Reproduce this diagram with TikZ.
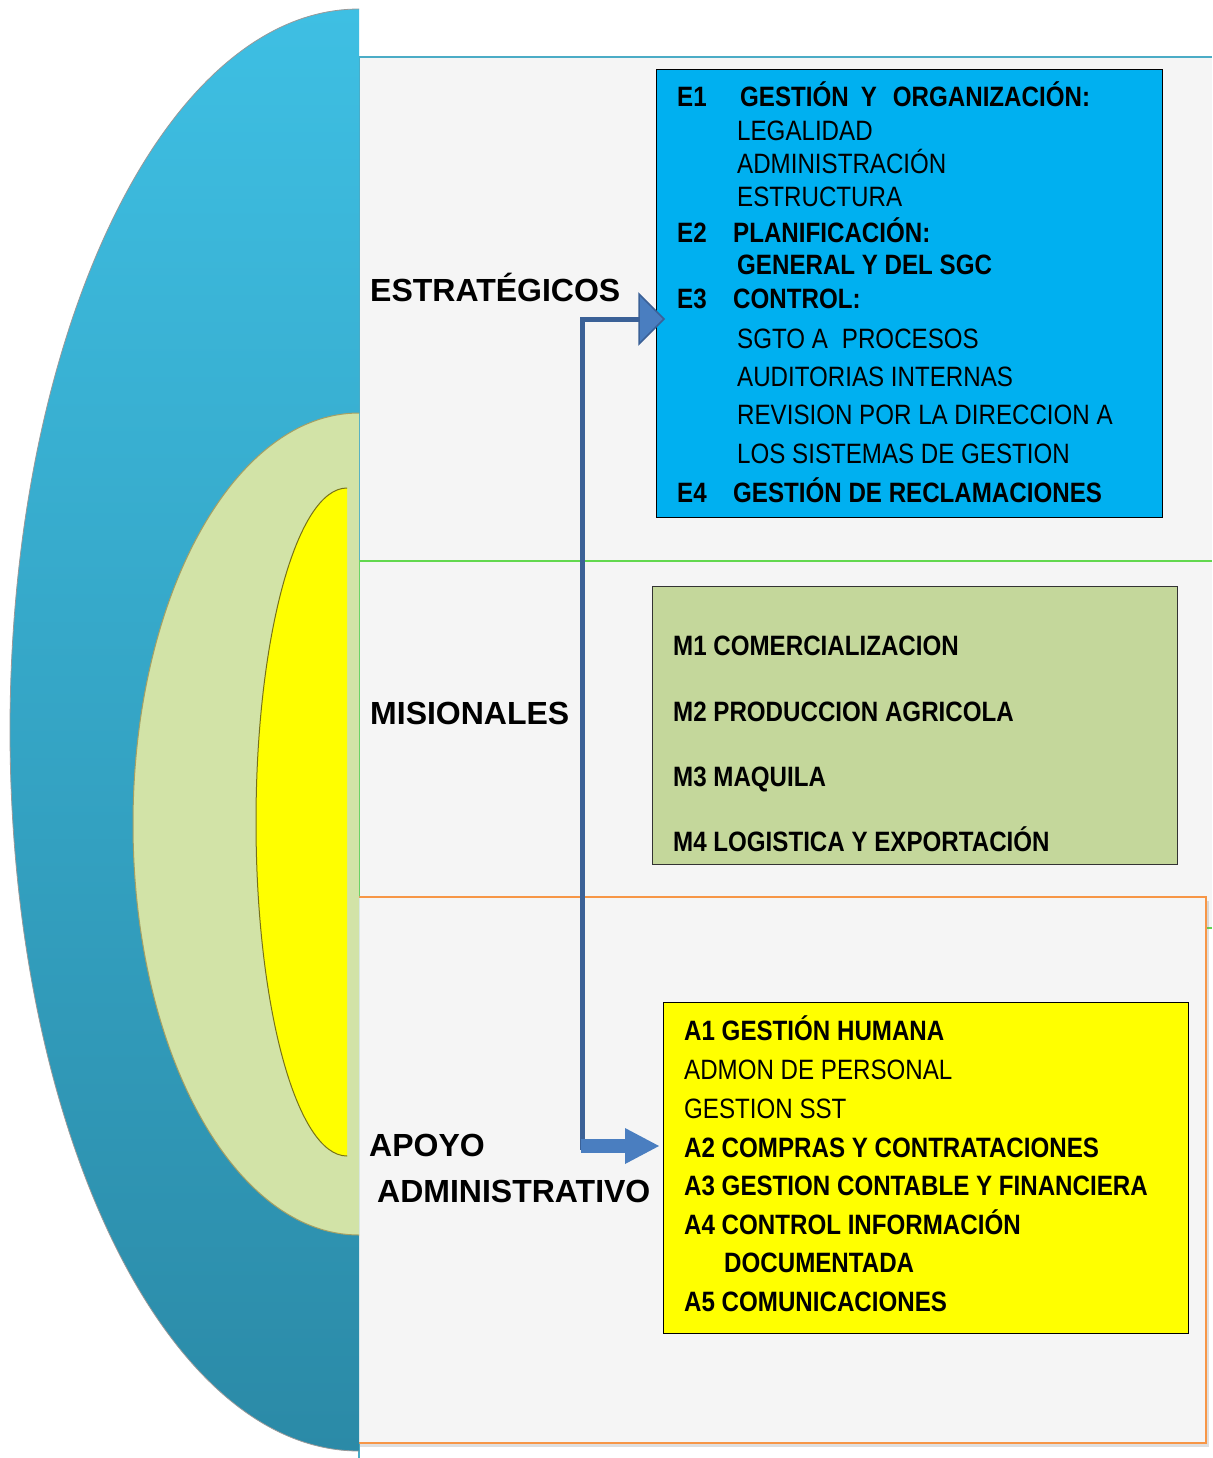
\documentclass[tikz,border=0pt]{standalone}
\usepackage{fontspec}
\setmainfont{Liberation Sans}
\newfontfamily\nar[FakeStretch=0.862]{Liberation Sans}
\usetikzlibrary{shadows}
\definecolor{bluetop}{HTML}{3EBFE3}
\definecolor{bluebot}{HTML}{2B8AA7}
\definecolor{palegreen}{HTML}{D2E3A7}
\definecolor{eboxc}{HTML}{00B0F0}
\definecolor{mboxc}{HTML}{C4D79B}
\definecolor{yelc}{HTML}{FFFF00}
\definecolor{tealc}{HTML}{4BACC6}
\definecolor{grnc}{HTML}{62D84F}
\definecolor{orgc}{HTML}{F79646}
\definecolor{panelc}{HTML}{F5F5F5}
\definecolor{darrc}{HTML}{3B6197}
\definecolor{larrc}{HTML}{4A7EC0}
\begin{document}
\begin{tikzpicture}[x=1pt,y=-1pt,
  lbl/.style={anchor=base west, inner sep=0pt, font=\fontsize{32}{37}\selectfont\bfseries},
  bt/.style={anchor=base west, inner sep=0pt, font=\nar\fontsize{28}{33}\selectfont\bfseries},
  rt/.style={anchor=base west, inner sep=0pt, font=\nar\fontsize{28}{33}\selectfont},
  boxstyle/.style={draw=black, line width=1pt, inner sep=0pt, anchor=north west},
  conn/.style={draw=darrc, line width=5pt}]
\useasboundingbox[fill=white] (0,0) rectangle (1212,1458);
% panels
\fill[panelc] (359,57) rectangle (1212,561);
\draw[tealc, line width=2pt] (359,57) -- (1212,57);
\draw[tealc, line width=1.5pt] (359,57) -- (359,1458);
\fill[panelc] (359,561) rectangle (1212,928);
\draw[grnc, line width=2pt] (1212,561) -- (359,561) -- (359,928) -- (1212,928);
\filldraw[fill=panelc, draw=orgc, line width=2pt,
  drop shadow={shadow xshift=3pt, shadow yshift=-4pt, opacity=0.25}]
  (357,897) rectangle (1206,1443);
% half ellipses
\begin{scope}
  \clip (0,0) rectangle (359,1458);
  \shade[top color=bluetop, bottom color=bluebot, draw=black!40, line width=0.8pt]
    (359,730) ellipse [x radius=349, y radius=721];
  \filldraw[fill=palegreen, draw=black!35!olive!60, line width=1pt]
    (359,824) ellipse [x radius=226, y radius=411];
\end{scope}
\begin{scope}
  \clip (0,0) rectangle (347,1458);
  \filldraw[fill=yelc, draw=olive!80!black, line width=1pt]
    (347,822) ellipse [x radius=91, y radius=334];
\end{scope}
% boxes
\node[boxstyle, fill=eboxc, minimum width=506, minimum height=448] (E) at (656,69) {};
\node[boxstyle, fill=mboxc, draw=black!80, minimum width=525, minimum height=278] (M) at (652,586) {};
\node[boxstyle, fill=yelc, minimum width=525, minimum height=331] (A) at (663,1002) {};
% labels
\node[lbl] (lest) at (370,301) {ESTRATÉGICOS};
\node[lbl] (lmis) at (370,724) {MISIONALES};
\node[lbl] (lapo) at (369,1156) {APOYO};
\node[lbl] (ladm) at (377,1202) {ADMINISTRATIVO};
% E box text
\node[bt] (e1) at (677,107) {E1};
\node[bt] (e1t) at (740,107) {GESTIÓN\hspace{12pt}Y\hspace{16pt}ORGANIZACIÓN:};
\node[rt] (e1a) at (737,141) {LEGALIDAD};
\node[rt] (e1b) at (737,174) {ADMINISTRACIÓN};
\node[rt] (e1c) at (737,207) {ESTRUCTURA};
\node[bt] (e2) at (677,242) {E2};
\node[bt] (e2t) at (733,242) {PLANIFICACIÓN:};
\node[bt] (e2a) at (737,274) {GENERAL Y DEL SGC};
\node[bt] (e3) at (677,308) {E3};
\node[bt] (e3t) at (733,308) {CONTROL:};
\node[rt] (e3a) at (737,348) {SGTO A\hspace{14pt}PROCESOS};
\node[rt] (e3b) at (737,386) {AUDITORIAS INTERNAS};
\node[rt] (e3c) at (737,424) {REVISION POR LA DIRECCION A};
\node[rt] (e3d) at (737,463) {LOS SISTEMAS DE GESTION};
\node[bt] (e4) at (677,502) {E4};
\node[bt] (e4t) at (733,502) {GESTIÓN DE RECLAMACIONES};
% M box text
\node[bt] (m1) at (673,655) {M1 COMERCIALIZACION};
\node[bt] (m2) at (673,721) {M2 PRODUCCION AGRICOLA};
\node[bt] (m3) at (673,786) {M3 MAQUILA};
\node[bt] (m4) at (673,851) {M4 LOGISTICA Y EXPORTACIÓN};
% A box text
\node[bt] (a1) at (684,1040) {A1 GESTIÓN HUMANA};
\node[rt] (a1a) at (684,1079) {ADMON DE PERSONAL};
\node[rt] (a1b) at (684,1118) {GESTION SST};
\node[bt] (a2) at (684,1157) {A2 COMPRAS Y CONTRATACIONES};
\node[bt] (a3) at (684,1195) {A3 GESTION CONTABLE Y FINANCIERA};
\node[bt] (a4) at (684,1234) {A4 CONTROL INFORMACIÓN};
\node[bt] (a4b) at (724,1272) {DOCUMENTADA};
\node[bt] (a5) at (684,1311) {A5 COMUNICACIONES};
% connector
\coordinate (etip) at (664,319);
\coordinate (atip) at (659,1146);
\coordinate (ebase) at ([xshift=-25]etip);
\coordinate (abase) at ([xshift=-34]atip);
\coordinate (corner) at (582,1150);
\path[conn] (ebase) -| (corner);
\fill[larrc] (581,1139) rectangle (abase |- 0,1153);
\fill[larrc] ([yshift=-18]abase) -- (atip) -- ([yshift=18]abase) -- cycle;
\filldraw[fill=larrc, draw=darrc, line width=1.5pt] ([yshift=-25]ebase) -- (etip) -- ([yshift=25]ebase) -- cycle;
\end{tikzpicture}
\end{document}
